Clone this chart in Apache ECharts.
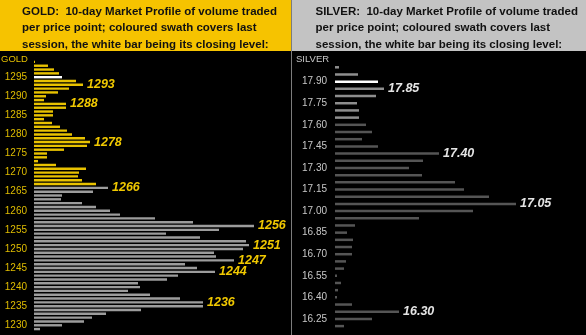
<!DOCTYPE html>
<html>
<head>
<meta charset="utf-8">
<script src="https://cdn.jsdelivr.net/npm/echarts@6/dist/echarts.min.js"></script>
<style>
  html, body { margin: 0; padding: 0; background: #000; }
  #chart { width: 586px; height: 335px; }
</style>
</head>
<body>
<div id="chart"></div>
<script>
// Gold: price levels (top to bottom) and 10-day volume per level
const goldPrices = ['1299','1298','1297','1296','1295','1294','1293','1292','1291','1290',
  '1289','1288','1287','1286','1285','1284','1283','1282','1281','1280',
  '1279','1278','1277','1276','1275','1274','1273','1272','1271','1270',
  '1269','1268','1267','1266','1265','1264','1263','1262','1261','1260',
  '1259','1258','1257','1256','1255','1254','1253','1252','1251','1250',
  '1249','1248','1247','1246','1245','1244','1243','1242','1241','1240',
  '1239','1238','1237','1236','1235','1234','1233','1232','1231','1230','1229'];
const goldVolume = [1,14,20,25,28,42,49,35,24,12,
  10,32,32,19,19,10,18,26,33,38,
  51,56,53,30,13,13,4,22,52,45,
  44,48,62,74,59,28,27,48,62,76,
  86,121,159,220,185,132,166,212,215,209,
  180,182,200,151,163,181,144,133,104,106,
  94,116,146,169,169,107,72,58,50,28,6];
const goldSession = ['1299','1298','1297','1296','1295','1294','1293','1292','1291','1290',
  '1289','1288','1287','1286','1285','1284','1283','1282','1281','1280',
  '1279','1278','1277','1276','1275','1274','1273','1272','1271','1270',
  '1269','1268','1267'];
const goldClose = '1295';
const goldLabelled = ['1293','1288','1278','1266','1256','1251','1247','1244','1236'];
const goldTicks = ['1295','1290','1285','1280','1275','1270','1265','1260','1255','1250','1245','1240','1235','1230'];

// Silver: price levels (top to bottom) and 10-day volume per level
const silverPrices = ['18.00','17.95','17.90','17.85','17.80','17.75','17.70','17.65','17.60','17.55',
  '17.50','17.45','17.40','17.35','17.30','17.25','17.20','17.15','17.10','17.05',
  '17.00','16.95','16.90','16.85','16.80','16.75','16.70','16.65','16.60','16.55',
  '16.50','16.45','16.40','16.35','16.30','16.25','16.20'];
const silverVolume = [4,23,43,49,41,22,24,24,31,37,
  27,43,104,88,74,87,120,129,154,181,
  138,84,20,12,18,17,17,11,9,2,
  6,3,2,17,64,37,9];
const silverSession = ['18.00','17.95','17.90','17.85','17.80','17.75','17.70','17.65'];
const silverClose = '17.90';
const silverLabelled = ['17.85','17.40','17.05','16.30'];
const silverTicks = ['17.90','17.75','17.60','17.45','17.30','17.15','17.00','16.85','16.70','16.55','16.40','16.25'];

const goldTitle = 'GOLD:  10-day Market Profile of volume traded\nper price point; coloured swath covers last\nsession, the white bar being its closing level:';
const silverTitle = 'SILVER:  10-day Market Profile of volume traded\nper price point; coloured swath covers last\nsession, the white bar being its closing level:';

function buildBars(prices, volume, session, close, labelled, colors) {
  return prices.map((p, i) => ({
    value: volume[i],
    itemStyle: { color: p === close ? colors.close : (session.includes(p) ? colors.session : colors.rest) },
    label: { show: labelled.includes(p), formatter: p }
  }));
}

const chart = echarts.init(document.getElementById('chart'));
const titleFont = { fontFamily: '"Liberation Sans", Arial, sans-serif', fontWeight: 'bold', fontSize: 11.5 };

chart.setOption({
  animation: false,
  backgroundColor: '#000',
  graphic: [
    { type: 'rect', shape: { x: 0, y: 0, width: 291, height: 51 }, style: { fill: '#f6c300' } },
    { type: 'rect', shape: { x: 292, y: 0, width: 294, height: 51 }, style: { fill: '#c3c3c3' } },
    { type: 'line', shape: { x1: 291.5, y1: 0, x2: 291.5, y2: 335 }, style: { stroke: '#7c7c7c', lineWidth: 1 } },
    { type: 'text', x: 22, y: 3.5, style: Object.assign({ text: goldTitle, fill: '#111', lineHeight: 16.4 }, titleFont) },
    { type: 'text', x: 315.5, y: 3.5, style: Object.assign({ text: silverTitle, fill: '#111', lineHeight: 16.4 }, titleFont) },
    { type: 'text', x: 1, y: 54, style: { text: 'GOLD', fill: '#e6c000', fontSize: 9.5, fontFamily: '"Liberation Sans", Arial, sans-serif' } },
    { type: 'text', x: 296, y: 54, style: { text: 'SILVER', fill: '#c8c8c8', fontSize: 9.5, fontFamily: '"Liberation Sans", Arial, sans-serif' } }
  ],
  grid: [
    { left: 34, top: 60, width: 252, height: 271 },
    { left: 335, top: 63.7, width: 246, height: 266 }
  ],
  xAxis: [
    { gridIndex: 0, type: 'value', min: 0, max: 252, show: false },
    { gridIndex: 1, type: 'value', min: 0, max: 246, show: false }
  ],
  yAxis: [
    {
      gridIndex: 0, type: 'category', inverse: true, data: goldPrices,
      axisLine: { show: false }, axisTick: { show: false }, splitLine: { show: false },
      axisLabel: {
        interval: (i, v) => goldTicks.includes(v),
        color: '#e0bd00', fontSize: 10, margin: 7,
        fontFamily: '"Liberation Sans", Arial, sans-serif'
      }
    },
    {
      gridIndex: 1, type: 'category', inverse: true, data: silverPrices,
      axisLine: { show: false }, axisTick: { show: false }, splitLine: { show: false },
      axisLabel: {
        interval: (i, v) => silverTicks.includes(v),
        color: '#c8c8c8', fontSize: 10, margin: 8,
        fontFamily: '"Liberation Sans", Arial, sans-serif'
      }
    }
  ],
  series: [
    {
      type: 'bar', xAxisIndex: 0, yAxisIndex: 0, barWidth: 2.4,
      data: buildBars(goldPrices, goldVolume, goldSession, goldClose, goldLabelled,
        { close: '#ffffff', session: '#e8c200', rest: '#9c9c9c' }),
      label: {
        position: 'right', distance: 4, color: '#f0c800',
        fontSize: 12.5, fontWeight: 'bold', fontStyle: 'italic',
        fontFamily: '"Liberation Sans", Arial, sans-serif'
      }
    },
    {
      type: 'bar', xAxisIndex: 1, yAxisIndex: 1, barWidth: 2.5,
      data: buildBars(silverPrices, silverVolume, silverSession, silverClose, silverLabelled,
        { close: '#ffffff', session: '#8e8e8e', rest: '#555555' }),
      label: {
        position: 'right', distance: 4, color: '#e4e4e4',
        fontSize: 12.5, fontWeight: 'bold', fontStyle: 'italic',
        fontFamily: '"Liberation Sans", Arial, sans-serif'
      }
    }
  ]
});
</script>
</body>
</html>
